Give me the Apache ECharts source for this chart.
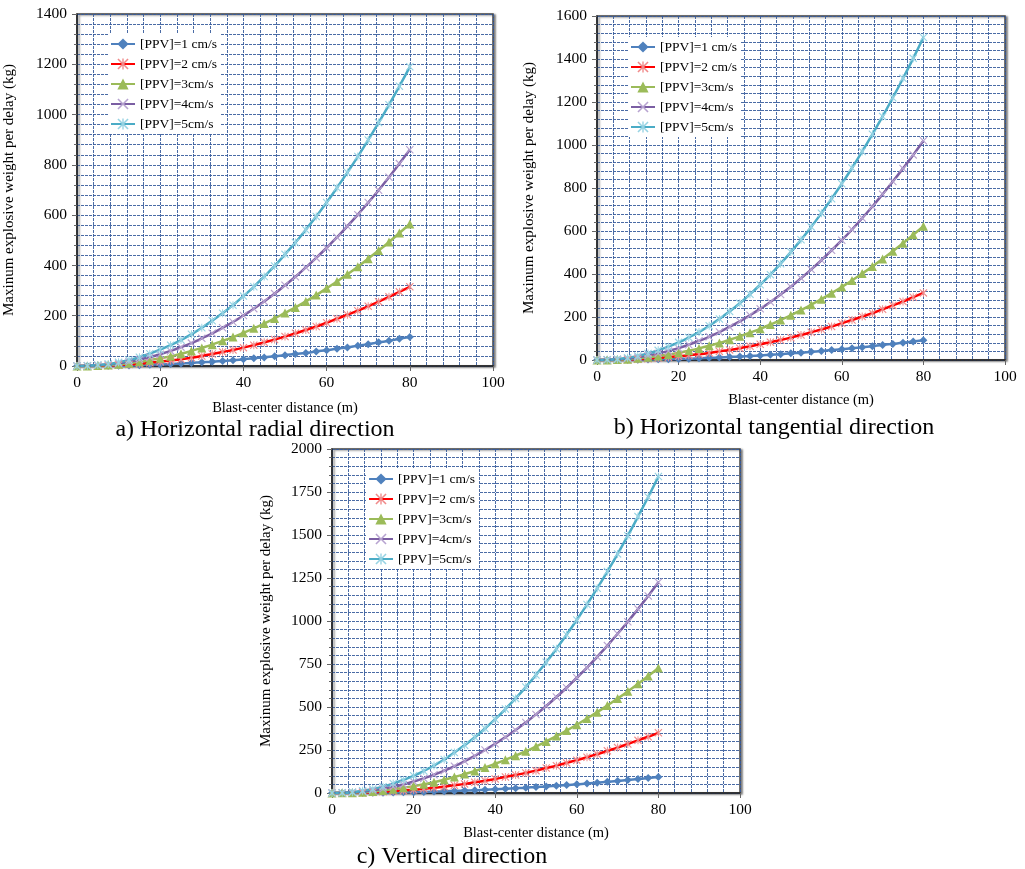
<!DOCTYPE html>
<html>
<head>
<meta charset="utf-8">
<script src="https://cdn.jsdelivr.net/npm/echarts@6/dist/echarts.min.js"></script>
<style>
  html, body { margin: 0; padding: 0; background: #fff; }
  #chart { width: 1025px; height: 869px; }
</style>
</head>
<body>
<div id="chart"></div>
<script>
// blast-center distance (m), markers every 2.5 m
const distance = [0, 2.5, 5, 7.5, 10, 12.5, 15, 17.5, 20, 22.5, 25, 27.5, 30, 32.5, 35, 37.5, 40,
  42.5, 45, 47.5, 50, 52.5, 55, 57.5, 60, 62.5, 65, 67.5, 70, 72.5, 75, 77.5, 80];

const seriesNames = ['[PPV]=1 cm/s', '[PPV]=2 cm/s', '[PPV]=3cm/s', '[PPV]=4cm/s', '[PPV]=5cm/s'];

// a) Horizontal radial direction (kg)
const radialPpv1 = [0,0,0,1,1,2,3,5,6,8,10,12,15,17,20,23,27,31,34,39,43,48,52,58,63,69,74,81,87,94,100,108,115];
const radialPpv2 = [0,0,1,2,4,6,9,13,17,22,27,33,40,48,56,64,73,83,94,105,117,130,143,157,172,188,204,220,238,256,275,295,315];
const radialPpv3 = [0,0,2,4,7,11,17,23,31,39,49,60,72,85,100,115,132,150,169,189,211,233,257,282,309,336,365,395,427,459,493,529,565];
const radialPpv4 = [0,1,3,6,11,17,26,35,47,60,75,91,110,130,152,175,201,228,257,288,321,355,392,430,470,512,556,602,650,699,751,805,860];
const radialPpv5 = [0,1,4,8,15,24,35,49,65,83,103,126,152,180,210,242,278,315,356,398,444,491,542,595,650,709,770,833,899,968,1039,1113,1190];

// b) Horizontal tangential direction (kg)
const tangPpv1 = [0,0,0,1,1,2,3,4,5,6,8,10,12,14,16,19,21,24,27,31,34,38,42,46,50,55,59,64,70,75,80,86,92];
const tangPpv2 = [0,0,1,2,4,6,9,13,17,22,27,33,40,47,55,64,73,83,93,104,116,129,142,156,171,186,202,218,236,254,272,292,312];
const tangPpv3 = [0,0,2,4,8,13,19,26,34,43,54,66,79,94,110,127,145,165,186,208,232,257,283,311,340,370,402,435,470,506,543,582,622];
const tangPpv4 = [0,1,3,7,13,21,30,42,55,71,89,108,130,154,180,208,238,270,305,341,380,421,464,510,557,607,660,714,771,830,891,954,1020];
const tangPpv5 = [0,1,4,10,19,30,45,62,82,105,130,159,191,226,264,306,350,397,448,502,559,619,683,750,820,893,970,1050,1133,1220,1310,1403,1500];

// c) Vertical direction (kg)
const vertPpv1 = [0,0,0,1,1,2,3,4,5,6,8,10,12,14,16,19,22,25,28,31,35,38,42,46,51,55,60,65,70,76,81,87,93];
const vertPpv2 = [0,0,1,2,4,7,10,14,19,24,30,37,45,53,62,71,82,93,105,117,130,145,159,175,191,208,226,245,264,285,306,327,350];
const vertPpv3 = [0,1,2,5,9,15,22,30,40,51,63,77,93,110,128,148,170,193,217,243,271,300,331,363,397,433,470,509,549,591,635,680,727];
const vertPpv4 = [0,1,4,9,16,25,36,50,67,85,106,130,156,185,216,250,286,325,366,410,457,506,558,612,670,729,792,857,926,996,1070,1146,1225];
const vertPpv5 = [0,1,5,13,23,37,55,76,100,128,160,195,235,278,324,375,429,488,550,616,686,760,838,920,1006,1096,1190,1288,1390,1496,1607,1721,1840];

const xTicks = [0, 20, 40, 60, 80, 100];
const yMaxA = 1400, yStepA = 200;
const yMaxB = 1600, yStepB = 200;
const yMaxC = 2000, yStepC = 250;

const FONT = 'Liberation Serif';
const GRID_COLOR = '#365b9b';

// x-shaped and asterisk markers as filled paths
const xMark = 'path://M0,1L1,0L5,4L9,0L10,1L6,5L10,9L9,10L5,6L1,10L0,9L4,5Z';
const starMark = 'path://M0,1L1,0L5,4L9,0L10,1L6,5L10,9L9,10L5,6L1,10L0,9L4,5Z M4.4,0H5.6V10H4.4Z';

const styles = [
  {line: '#4f81bd', mark: '#4f81bd', symbol: 'diamond', size: 8},
  {line: '#ff0000', mark: '#f08a8a', symbol: starMark, size: 8},
  {line: '#9bbb59', mark: '#9bbb59', symbol: 'triangle', size: 9},
  {line: '#7b5ea3', mark: '#b7a3d0', symbol: xMark, size: 8},
  {line: '#4bacc6', mark: '#97d3e3', symbol: starMark, size: 8}
];

const panels = [
  {grid: {left: 77, top: 14, width: 416, height: 352}, max: yMaxA, step: yStepA, nameGap: 60,
    xNameGap: 35, legend: {left: 108, top: 34},
    data: [radialPpv1, radialPpv2, radialPpv3, radialPpv4, radialPpv5]},
  {grid: {left: 597, top: 16, width: 408, height: 344}, max: yMaxB, step: yStepB, nameGap: 60,
    xNameGap: 33, legend: {left: 628, top: 37},
    data: [tangPpv1, tangPpv2, tangPpv3, tangPpv4, tangPpv5]},
  {grid: {left: 332, top: 449, width: 408, height: 344}, max: yMaxC, step: yStepC, nameGap: 58,
    xNameGap: 33, legend: {left: 366, top: 469},
    data: [vertPpv1, vertPpv2, vertPpv3, vertPpv4, vertPpv5]}
];

const captions = [
  {text: 'a) Horizontal radial direction', x: 255, y: 430},
  {text: 'b) Horizontal tangential direction', x: 774, y: 428},
  {text: 'c) Vertical direction', x: 452, y: 857}
];

const splitStyle = {color: GRID_COLOR, width: 1, type: [3, 1], opacity: 0.9};

const option = {
  backgroundColor: '#fff',
  animation: false,
  textStyle: {fontFamily: FONT, color: '#000'},
  grid: panels.map(p => Object.assign({
    show: true,
    borderColor: '#444',
    borderWidth: 1.5,
    backgroundColor: '#fff',
    shadowColor: 'rgba(0,0,0,0.45)',
    shadowBlur: 2,
    shadowOffsetX: 2,
    shadowOffsetY: 1
  }, p.grid)),
  xAxis: panels.map((p, i) => ({
    type: 'value',
    gridIndex: i,
    min: xTicks[0],
    max: xTicks[xTicks.length - 1],
    interval: 20,
    name: 'Blast-center distance (m)',
    nameLocation: 'middle',
    nameGap: p.xNameGap,
    nameTextStyle: {fontFamily: FONT, fontSize: 14.5, color: '#000'},
    axisLine: {show: true, lineStyle: {color: '#222', width: 1.5}},
    axisTick: {show: true, inside: false, length: 5, lineStyle: {color: '#666'}},
    axisLabel: {fontFamily: FONT, fontSize: 15.5, color: '#000', margin: 9},
    splitLine: {show: true, lineStyle: splitStyle},
    minorTick: {show: false, splitNumber: 5},
    minorSplitLine: {show: true, lineStyle: splitStyle}
  })),
  yAxis: panels.map((p, i) => ({
    type: 'value',
    gridIndex: i,
    min: 0,
    max: p.max,
    interval: p.step,
    name: 'Maxinum explosive weight per delay (kg)',
    nameLocation: 'middle',
    nameGap: p.nameGap,
    nameTextStyle: {fontFamily: FONT, fontSize: 15, color: '#000'},
    axisLine: {show: true, lineStyle: {color: '#222', width: 1.5}},
    axisTick: {show: true, inside: false, length: 5, lineStyle: {color: '#666'}},
    axisLabel: {fontFamily: FONT, fontSize: 15.5, color: '#000', margin: 10,
      formatter: v => String(v)},
    splitLine: {show: true, lineStyle: splitStyle},
    minorTick: {show: true, splitNumber: 5, length: 3, lineStyle: {color: '#666'}},
    minorSplitLine: {show: true, lineStyle: splitStyle}
  })),
  legend: panels.map(p => ({
    data: seriesNames,
    orient: 'vertical',
    left: p.legend.left,
    top: p.legend.top,
    backgroundColor: '#fff',
    padding: [3, 4, 3, 2],
    itemGap: 6,
    itemWidth: 24,
    itemHeight: 14,
    textStyle: {fontFamily: FONT, fontSize: 13.5, color: '#000'}
  })),
  graphic: captions.map(c => ({
    type: 'text',
    x: c.x,
    y: c.y,
    style: {
      text: c.text,
      fontFamily: FONT,
      fontSize: 24,
      fill: '#000',
      align: 'center',
      verticalAlign: 'middle'
    }
  })),
  series: []
};

panels.forEach((p, gi) => {
  p.data.forEach((vals, si) => {
    const s = styles[si];
    option.series.push({
      name: seriesNames[si],
      type: 'line',
      xAxisIndex: gi,
      yAxisIndex: gi,
      data: distance.map((d, k) => [d, vals[k]]),
      symbol: s.symbol,
      symbolSize: s.size,
      showSymbol: true,
      smooth: true,
      lineStyle: {color: s.line, width: 2.5},
      itemStyle: {color: s.mark, borderWidth: 0}
    });
  });
});

const chart = echarts.init(document.getElementById('chart'));
chart.setOption(option);
</script>
</body>
</html>
